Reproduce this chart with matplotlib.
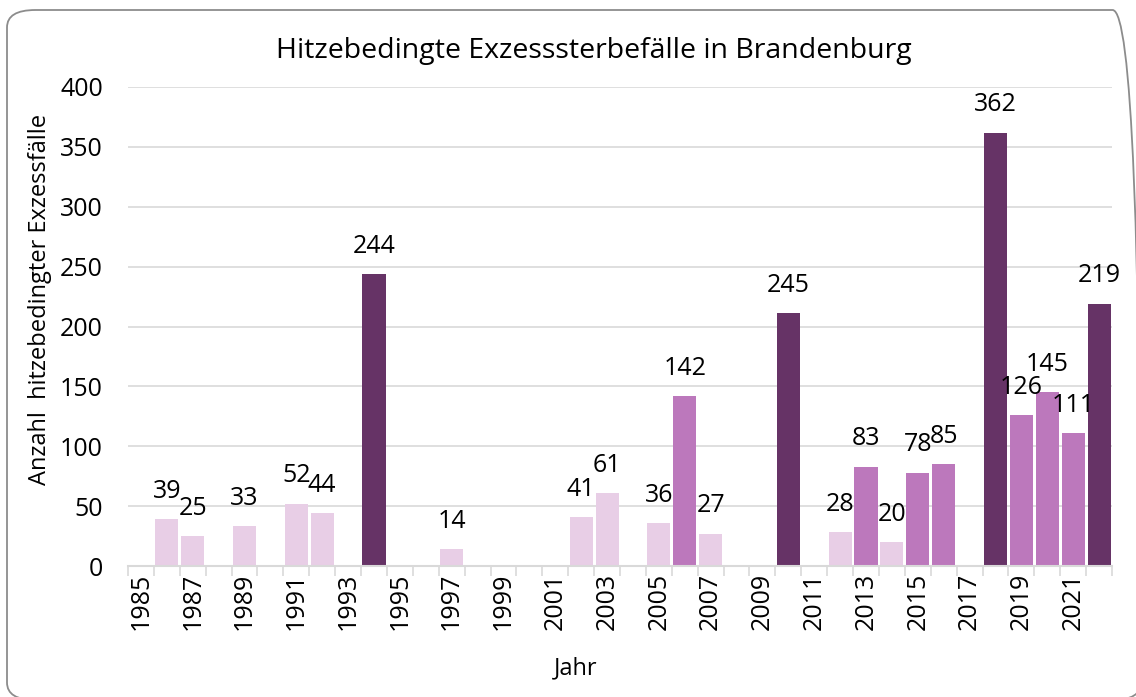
'''
Heat-related excess deaths in Brandenburg, bar chart.
'''

import matplotlib.pyplot as plt
from matplotlib.patches import FancyBboxPatch

plt.rcParams['font.family'] = ['Open Sans', 'DejaVu Sans']

# data
years = list(range(1985, 2023))
heights = [0, 39, 25, 0, 33, 0, 52, 44, 0, 244,
           0, 0, 14, 0, 0, 0, 0, 41, 61, 0,
           36, 142, 27, 0, 0, 211, 0, 28, 83, 20,
           78, 85, 0, 362, 126, 145, 111, 219]
labels = ['', '39', '25', '', '33', '', '52', '44', '', '244',
          '', '', '14', '', '', '', '', '41', '61', '',
          '36', '142', '27', '', '', '245', '', '28', '83', '20',
          '78', '85', '', '362', '126', '145', '111', '219']
# 0 = light, 1 = medium, 2 = dark
levels = [0, 0, 0, 0, 0, 0, 0, 0, 0, 2,
          0, 0, 0, 0, 0, 0, 0, 0, 0, 0,
          0, 1, 0, 0, 0, 2, 0, 0, 1, 0,
          1, 1, 0, 2, 1, 1, 1, 2]
palette = ['#E8CEE6', '#BC78BC', '#663366']

W, H = 1136, 697
fs = 18
fig = plt.figure(figsize=(W / 100, H / 100), dpi=100)

# rounded frame
frame = FancyBboxPatch((7 / W, (H - 700) / H), 1134 / W, 690 / H,
                       boxstyle='round,pad=0,rounding_size=0.025',
                       transform=fig.transFigure, fill=False,
                       edgecolor='#8C8C8C', linewidth=1.3, clip_on=False)
fig.patches.append(frame)

ax = fig.add_axes([128 / W, 1 - 566 / H, (1112 - 128) / W, (566 - 87) / H])

x = list(range(len(years)))
colors = [palette[l] for l in levels]
ax.bar(x, heights, width=0.89, color=colors, zorder=2)

# value labels above bars
for xi, h, lab in zip(x, heights, labels):
    if lab:
        ax.annotate(lab, (xi, h), xytext=(0, 11), textcoords='offset points',
                    ha='center', va='bottom', fontsize=fs)

ax.set_xlim(-0.5, len(years) - 0.5)
ax.set_ylim(0, 400)
ax.set_yticks(range(0, 401, 50))
ax.grid(axis='y', color='#D9D9D9', linewidth=1.2, zorder=0)
ax.set_axisbelow(True)

# x ticks: labels every second year, marks at category borders
ax.set_xticks(x[::2])
ax.set_xticklabels([str(y) for y in years[::2]], rotation=90, fontsize=fs)
ax.set_xticks([i - 0.5 for i in range(len(years) + 1)], minor=True)
ax.tick_params(axis='x', which='major', length=0, pad=5)
ax.tick_params(axis='x', which='minor', length=7, width=1.2, color='#D9D9D9')
ax.tick_params(axis='y', length=0, pad=18, labelsize=fs)

for s in ['top', 'right', 'left']:
    ax.spines[s].set_visible(False)
ax.spines['bottom'].set_color('#D9D9D9')
ax.spines['bottom'].set_linewidth(1.5)

ax.set_xlabel('Jahr', fontsize=17, va='center')
ax.xaxis.set_label_coords(0.455, -0.213)
ax.set_ylabel('Anzahl  hitzebedingter Exzessfälle', fontsize=17, va='center')
ax.yaxis.set_label_coords(-0.089, 0.557)
fig.text(594 / W, 1 - 51 / H, 'Hitzebedingte Exzesssterbefälle in Brandenburg',
         ha='center', va='center', fontsize=20.5)

plt.savefig('out.png', dpi=100)
